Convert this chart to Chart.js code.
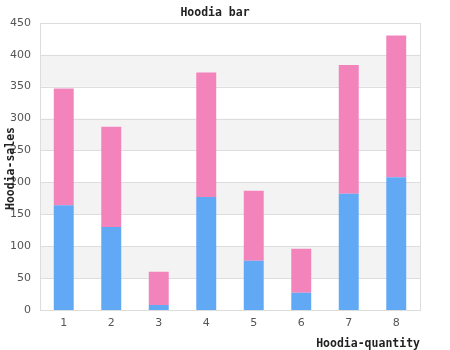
<!DOCTYPE html>
<html>
<head>
<meta charset="utf-8">
<script src="https://cdn.jsdelivr.net/npm/chart.js@4/dist/chart.umd.min.js"></script>
<style>
  html, body { margin: 0; padding: 0; background: #fff; }
  #wrap { width: 450px; height: 350px; }
</style>
</head>
<body>
<div id="wrap"><canvas id="chartContainer" width="450" height="350"></canvas></div>
<script>
// values
const categories = ['1', '2', '3', '4', '5', '6', '7', '8'];
const lowerSales = [164, 130, 8, 177, 77, 27, 182, 208];
const upperSales = [183, 157, 52, 195, 110, 69, 202, 222];
const bandRanges = [[50, 100], [150, 200], [250, 300], [350, 400]];

const monoBold = { family: '"DejaVu Sans Mono", monospace', size: 11.5, weight: 'bold' };
const sans = { family: '"DejaVu Sans", sans-serif', size: 11 };

// grey bands, frame and the axis titles
const decor = {
    id: 'decor',
    beforeDatasetsDraw(chart) {
        const ctx = chart.ctx;
        const a = chart.chartArea;
        const y = chart.scales.y;
        ctx.save();
        ctx.fillStyle = '#f3f3f3';
        bandRanges.forEach(function(r) {
            const top = y.getPixelForValue(r[1]);
            const bot = y.getPixelForValue(r[0]);
            ctx.fillRect(a.left, top, a.right - a.left, bot - top);
        });
        ctx.strokeStyle = '#dddddd';
        ctx.lineWidth = 1;
        y.ticks.forEach(function(t) {
            const py = Math.round(y.getPixelForValue(t.value)) + 0.5;
            ctx.beginPath();
            ctx.moveTo(a.left, py);
            ctx.lineTo(a.right, py);
            ctx.stroke();
        });
        ctx.strokeRect(Math.round(a.left) + 0.5, Math.round(a.top) + 0.5,
            Math.round(a.right - a.left), Math.round(a.bottom - a.top));
        ctx.restore();
    },
    afterDraw(chart) {
        const ctx = chart.ctx;
        const a = chart.chartArea;
        ctx.save();
        ctx.font = 'bold 11.5px "DejaVu Sans Mono", monospace';
        ctx.fillStyle = '#222';
        ctx.textBaseline = 'middle';
        ctx.textAlign = 'right';
        ctx.fillText('Hoodia-quantity', a.right, 344);
        ctx.translate(11, 168.5);
        ctx.rotate(-Math.PI / 2);
        ctx.textAlign = 'center';
        ctx.fillText('Hoodia-sales', 0, 0);
        ctx.restore();
    }
};

const ctx = document.getElementById('chartContainer').getContext('2d');

new Chart(ctx, {
    type: 'bar',
    data: {
        labels: categories,
        datasets: [{
            label: 'lower',
            data: lowerSales,
            backgroundColor: '#61a9f4',
            barPercentage: 0.42,
            categoryPercentage: 1
        }, {
            label: 'upper',
            data: upperSales,
            backgroundColor: '#f283bb',
            barPercentage: 0.42,
            categoryPercentage: 1
        }]
    },
    options: {
        responsive: false,
        animation: false,
        layout: { padding: { left: 10, right: 30, top: 0, bottom: 0 } },
        plugins: {
            legend: { display: false },
            tooltip: { enabled: false },
            title: {
                display: true,
                text: 'Hoodia bar',
                color: '#222',
                font: monoBold,
                padding: { top: 6, bottom: 3 }
            }
        },
        scales: {
            x: {
                stacked: true,
                grid: { display: false, drawTicks: false },
                border: { display: false },
                ticks: { color: '#555', font: sans, padding: 7 },
                afterFit(scale) { scale.height = 40; }
            },
            y: {
                stacked: true,
                min: 0,
                max: 450,
                grid: { display: false, drawTicks: false },
                border: { display: false },
                ticks: { stepSize: 50, color: '#555', font: sans, padding: 9 },
                afterFit(scale) { scale.width = 30; }
            }
        }
    },
    plugins: [decor]
});
</script>
</body>
</html>
